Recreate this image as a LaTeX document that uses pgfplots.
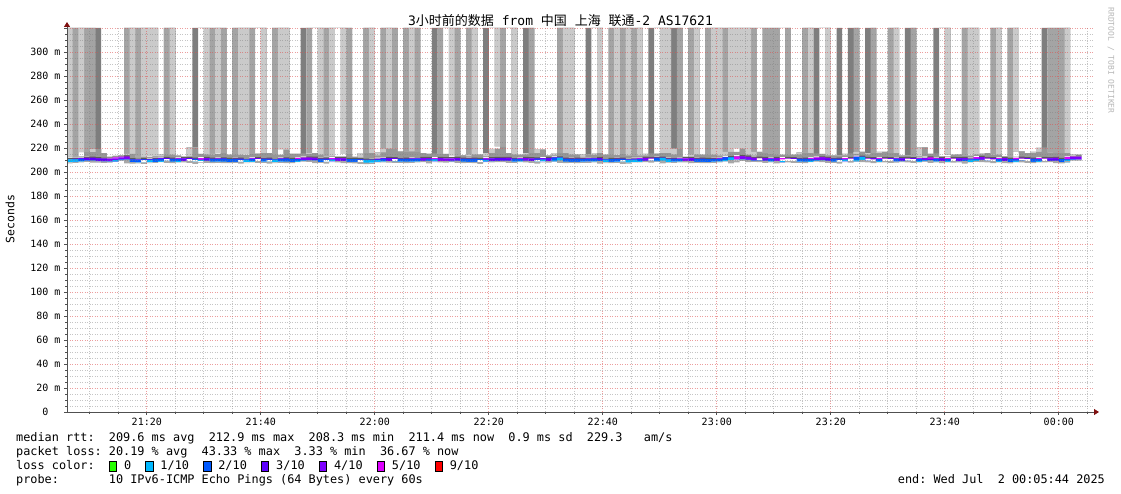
\documentclass[border=0pt]{standalone}
\usepackage{fontspec}
\setmainfont{DejaVu Sans Mono}
\newfontfamily\cjk{Noto Sans CJK SC}
\usepackage{pgfplots}
\pgfplotsset{compat=1.18}
\usepackage{pgfplotstable}
\usetikzlibrary{arrows.meta}
\frenchspacing
\definecolor{lossA}{HTML}{26FF00}
\definecolor{lossB}{HTML}{00B8FF}
\definecolor{lossC}{HTML}{0059FF}
\definecolor{lossD}{HTML}{5E00FF}
\definecolor{lossE}{HTML}{7E00FF}
\definecolor{lossF}{HTML}{DD00FF}
\definecolor{lossG}{HTML}{FF0000}
\definecolor{barA}{HTML}{CACACA}
\definecolor{barB}{HTML}{A4A4A4}
\definecolor{barC}{HTML}{7E7E7E}
\definecolor{smokeLow}{HTML}{A8A8A8}
\definecolor{smokeDark}{HTML}{5A5A5A}
\definecolor{smokeMid}{HTML}{979797}
\definecolor{mgrid}{HTML}{DE5050}
\definecolor{ngrid}{HTML}{808080}
\definecolor{axiscol}{HTML}{505050}
\definecolor{arrowcol}{HTML}{7F1010}
% x = minutes after 21:06, c = loss colour of median (loss/10), sh = shade of loss smoke, top = top of smoke band, med = median rtt (ms)
\pgfplotstableread{
x c sh top med
0 1 1 211.9 209.3
1 1 0 213.1 209.4
2 2 1 213.1 209.8
3 3 2 216.6 210.3
4 3 2 216.6 210.6
5 3 3 219.0 210.1
6 3 0 215.8 210.0
7 4 0 212.6 209.9
8 4 0 212.6 210.1
9 4 0 213.4 211.0
10 4 0 214.0 211.6
11 2 1 215.0 209.4
12 2 0 212.2 209.1
13 2 1 212.6 209.3
14 1 1 212.6 209.0
15 2 1 213.1 209.5
16 2 0 212.9 209.7
17 3 0 214.4 210.4
18 2 1 214.4 209.8
19 2 0 213.6 209.5
20 3 0 212.6 210.2
21 3 0 212.9 210.3
22 2 0 220.6 209.8
23 1 2 215.0 209.0
24 4 1 214.4 210.4
25 2 0 214.4 209.8
26 2 1 215.0 209.6
27 2 2 215.8 209.9
28 2 0 214.4 209.5
29 2 0 214.4 209.6
30 2 1 214.4 209.7
31 1 1 214.4 209.1
32 2 2 215.0 209.6
33 3 2 215.0 210.2
34 2 1 215.8 209.7
35 2 0 215.8 209.8
36 1 0 214.4 209.2
37 2 1 214.4 209.6
38 2 1 218.6 209.9
39 2 0 215.0 209.5
40 2 0 215.0 209.6
41 4 0 215.0 210.5
42 4 2 215.0 210.8
43 4 2 215.8 210.6
44 2 1 214.4 209.5
45 2 0 212.6 209.7
46 1 1 213.1 209.2
47 4 2 212.9 210.3
48 4 1 213.1 210.2
49 2 2 215.0 209.6
50 2 0 212.6 209.6
51 2 0 212.0 209.4
52 1 0 215.8 209.0
53 1 1 215.8 208.8
54 1 0 213.6 209.0
55 2 0 216.4 209.8
56 3 1 219.4 210.3
57 3 2 219.4 210.1
58 2 0 217.2 209.7
59 2 0 217.2 209.8
60 2 1 217.2 209.6
61 2 2 217.2 209.9
62 4 0 215.8 210.3
63 4 0 215.0 210.4
64 1 0 215.0 209.3
65 4 2 215.0 210.3
66 4 2 215.0 210.2
67 4 1 212.6 210.1
68 4 2 213.9 210.4
69 2 0 213.9 209.8
70 2 0 213.1 209.6
71 2 1 214.4 209.7
72 2 0 214.4 209.5
73 1 0 213.1 209.0
74 3 2 215.8 210.1
75 3 1 219.4 210.3
76 3 2 221.4 210.4
77 4 2 215.8 210.5
78 2 1 214.4 209.7
79 2 0 214.4 209.8
80 4 0 214.4 210.4
81 4 2 215.8 210.2
82 2 0 215.8 209.9
83 1 0 218.6 209.1
84 3 0 213.9 210.3
85 3 0 213.9 210.1
86 1 0 215.8 210.8
87 2 1 215.8 209.8
88 2 1 214.4 209.6
89 2 0 214.4 209.7
90 2 0 212.6 209.6
91 2 0 214.4 209.8
92 2 2 214.4 209.9
93 3 1 215.8 210.3
94 1 0 214.4 209.2
95 2 0 214.4 209.6
96 2 1 214.4 209.5
97 2 0 215.0 209.8
98 1 1 213.6 209.0
99 1 0 213.6 209.1
100 2 1 213.6 209.7
101 4 0 213.6 210.3
102 4 0 215.0 210.5
103 3 2 215.0 210.1
104 1 1 215.8 210.6
105 1 1 215.8 209.3
106 2 0 214.4 209.7
107 2 2 219.4 209.8
108 4 0 212.6 210.2
109 4 0 212.6 210.3
110 2 1 214.4 209.6
111 2 0 214.4 209.7
112 2 0 214.4 209.5
113 2 1 214.4 209.6
114 2 1 213.6 209.8
115 3 3 213.6 210.2
116 1 1 216.7 211.0
117 1 1 216.7 209.3
118 4 1 219.4 211.8
119 4 1 214.4 211.4
120 4 2 213.9 210.5
121 5 3 216.7 210.6
122 4 2 215.8 210.4
123 2 2 215.0 209.8
124 4 2 214.4 210.3
125 5 3 214.4 209.4
126 4 2 214.4 210.3
127 3 0 214.4 210.2
128 2 0 214.4 209.7
129 2 0 216.4 209.8
130 2 1 215.8 209.6
131 4 0 215.0 210.4
132 4 2 215.0 210.9
133 4 1 213.9 210.5
134 2 0 213.9 209.8
135 2 3 213.9 209.7
136 1 0 213.9 209.2
137 4 0 215.0 210.3
138 3 2 215.0 210.1
139 1 0 216.7 211.4
140 4 0 214.4 210.4
141 3 2 215.8 210.2
142 2 0 215.8 209.6
143 4 0 216.7 210.3
144 3 0 215.8 210.2
145 2 1 215.8 209.8
146 3 0 213.9 210.1
147 4 0 213.9 210.4
148 3 2 213.1 210.2
149 2 0 213.1 209.7
150 4 0 220.6 210.3
151 5 0 215.0 210.9
152 2 0 215.0 209.8
153 4 2 213.1 210.3
154 2 1 213.1 209.6
155 4 0 214.4 210.3
156 3 0 214.4 210.1
157 4 0 213.9 210.3
158 1 1 213.9 209.1
159 2 1 214.4 209.7
160 4 0 214.4 211.2
161 4 0 215.8 210.5
162 3 3 214.4 210.2
163 2 1 214.4 209.6
164 4 0 213.1 210.3
165 2 0 213.1 209.5
166 2 1 213.1 209.4
167 4 0 217.2 210.6
168 3 0 215.8 210.2
169 2 0 215.8 209.7
170 2 0 216.7 209.6
171 4 0 220.0 210.3
172 3 2 216.4 210.2
173 4 2 216.4 210.5
174 2 0 215.8 209.5
175 2 1 215.8 209.3
176 4 0 214.4 211.3
177 4 0 214.4 211.6
178 4 0 214.4 211.6
}\smoke
\newcommand\lb[1]{\makebox[\dimexpr2\fontcharwd\font`0+0.8pt\relax][l]{\setlength\fboxsep{0pt}\setlength\fboxrule{0.8pt}\raisebox{-1.5pt}{\fcolorbox{black}{#1}{\rule{0pt}{10pt}\rule{6.5pt}{0pt}}}}}
\begin{document}
\begin{tikzpicture}[x=1pt,y=1pt]
\fill[white] (0,0) rectangle (1121,494);
\begin{axis}[
  at={(67pt,82pt)}, anchor=south west,
  scale only axis, width=1026pt, height=384pt,
  xmin=0, xmax=180, ymin=0, ymax=320,
  enlargelimits=false,
  stack plots=y,
  axis on top,
  axis x line=bottom, axis y line=left,
  axis line style={draw=axiscol, line width=0.9pt, -{Triangle[length=5pt,width=6pt,color=arrowcol]}, shorten >=-6pt},
  xtick={14,34,...,174},
  xticklabels={21:20,21:40,22:00,22:20,22:40,23:00,23:20,23:40,00:00},
  minor xtick={4,9,19,24,29,39,44,49,59,64,69,79,84,89,99,104,109,119,124,129,139,144,149,159,164,169,179},
  ytick={0,20,...,320},
  yticklabels={0\phantom{~m},20 m,40 m,60 m,80 m,100 m,120 m,140 m,160 m,180 m,200 m,220 m,240 m,260 m,280 m,300 m,{}},
  minor y tick num=3,
  grid=both,
  major grid style={draw=mgrid, draw opacity=0.55, dash pattern=on 1pt off 1.5pt, line width=0.8pt},
  minor grid style={draw=ngrid, draw opacity=0.45, dash pattern=on 1pt off 1.5pt, line width=0.8pt},
  tick style={draw=axiscol, line width=0.7pt},
  major tick length=3pt, minor tick length=2pt, tick align=outside,
  ticklabel style={font=\fontsize{10}{12}\selectfont, text=black},
  every axis plot/.append style={ybar interval, draw=none, line width=0pt},
]
\addplot[fill=none] table[x=x, y expr=\thisrow{med}-2.2] \smoke;
\addplot[fill=smokeLow] table[x=x, y expr=1.0] \smoke;
\addplot[fill=lossB] table[x=x, y expr={\thisrow{c}==1 ? 2.4 : 0}] \smoke;
\addplot[fill=lossC] table[x=x, y expr={\thisrow{c}==2 ? 2.4 : 0}] \smoke;
\addplot[fill=lossD] table[x=x, y expr={\thisrow{c}==3 ? 2.4 : 0}] \smoke;
\addplot[fill=lossE] table[x=x, y expr={\thisrow{c}==4 ? 2.4 : 0}] \smoke;
\addplot[fill=lossF] table[x=x, y expr={\thisrow{c}==5 ? 2.4 : 0}] \smoke;
\addplot[fill=smokeDark] table[x=x, y expr=1.0] \smoke;
\addplot[fill=smokeMid] table[x=x, y expr=\thisrow{top}-\thisrow{med}-2.2] \smoke;
\addplot[fill=barA] table[x=x, y expr={\thisrow{sh}==1 ? 320-\thisrow{top} : 0}] \smoke;
\addplot[fill=barB] table[x=x, y expr={\thisrow{sh}==2 ? 320-\thisrow{top} : 0}] \smoke;
\addplot[fill=barC] table[x=x, y expr={\thisrow{sh}==3 ? 320-\thisrow{top} : 0}] \smoke;
\end{axis}
\node[font=\fontsize{13}{15}\selectfont] at (560.5,473) {3{\cjk 小时前的数据} from {\cjk 中国} {\cjk 上海} {\cjk 联通}-2 AS17621};
\node[rotate=90, font=\fontsize{11.5}{13}\selectfont] at (10,275) {Seconds};
\node[rotate=-90, anchor=west, font=\fontsize{8}{9}\selectfont, text=black!28] at (1111,490) {RRDTOOL / TOBI OETIKER};
\begin{scope}[every node/.style={anchor=base west, inner sep=0pt, font=\fontsize{11.85}{14}\selectfont}]
\node at (16,52) {median rtt:~~209.6 ms avg~~212.9 ms max~~208.3 ms min~~211.4 ms now~~0.9 ms sd~~229.3~~~am/s};
\node at (16,38) {packet loss: 20.19 \% avg~~43.33 \% max~~3.33 \% min~~36.67 \% now};
\node at (16,24) {loss color:~~\lb{lossA}0~~\lb{lossB}1/10~~\lb{lossC}2/10~~\lb{lossD}3/10~~\lb{lossE}4/10~~\lb{lossF}5/10~~\lb{lossG}9/10};
\node at (16,10) {probe:~~~~~~~10 IPv6-ICMP Echo Pings (64 Bytes) every 60s};
\node[anchor=base east] at (1105,10) {end: Wed Jul~~2 00:05:44 2025};
\end{scope}
\end{tikzpicture}
\end{document}
